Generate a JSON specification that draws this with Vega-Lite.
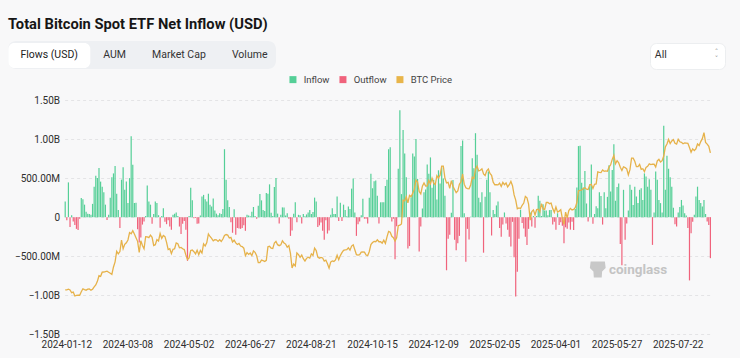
{
"$schema":"https://vega.github.io/schema/vega-lite/v6.json",
"width":646.4,"height":234.3,
"autosize":{"type":"none"},
"padding":{"left":64.6,"top":100,"right":29,"bottom":23.7},
"background":"#f8f8f9",
"title":{"text":"Total Bitcoin Spot ETF Net Inflow (USD)","anchor":"start","frame":"group","dx":-56.6,"offset":9,"font":"Roboto","fontSize":14.7,"fontWeight":"bold","color":"#161616"},
"config":{"view":{"stroke":null},"font":"Roboto"},
"datasets":{"flows":[
{"d":"2024-01-11","f":200,"p":42.8},{"d":"2024-01-12","f":-40,"p":42.8},{"d":"2024-01-16","f":445,"p":43.1},{"d":"2024-01-17","f":-125,"p":42.7},{"d":"2024-01-18","f":25,"p":41.3},{"d":"2024-01-19","f":-55,"p":41.6},{"d":"2024-01-22","f":-100,"p":39.6},{"d":"2024-01-23","f":-150,"p":39.9},{"d":"2024-01-24","f":-165,"p":40.1},{"d":"2024-01-25","f":-20,"p":40.0},{"d":"2024-01-26","f":245,"p":41.8},{"d":"2024-01-29","f":230,"p":43.3},{"d":"2024-01-30","f":160,"p":42.9},{"d":"2024-01-31","f":70,"p":42.6},
{"d":"2024-02-01","f":45,"p":43.1},{"d":"2024-02-02","f":40,"p":43.2},{"d":"2024-02-05","f":30,"p":42.6},{"d":"2024-02-06","f":170,"p":43.1},{"d":"2024-02-07","f":390,"p":44.3},{"d":"2024-02-08","f":530,"p":45.3},{"d":"2024-02-09","f":500,"p":47.1},{"d":"2024-02-12","f":630,"p":50.0},{"d":"2024-02-13","f":455,"p":49.7},{"d":"2024-02-14","f":390,"p":51.8},{"d":"2024-02-15","f":320,"p":51.9},{"d":"2024-02-16","f":160,"p":52.1},{"d":"2024-02-20","f":-35,"p":52.3},{"d":"2024-02-21","f":30,"p":51.8},{"d":"2024-02-22","f":250,"p":51.3},{"d":"2024-02-23","f":510,"p":50.7},{"d":"2024-02-26","f":560,"p":54.5},{"d":"2024-02-27","f":655,"p":57.1},{"d":"2024-02-28","f":300,"p":62.5},{"d":"2024-02-29","f":90,"p":61.2},
{"d":"2024-03-01","f":-140,"p":62.4},{"d":"2024-03-04","f":480,"p":68.3},{"d":"2024-03-05","f":640,"p":63.8},{"d":"2024-03-06","f":350,"p":66.1},{"d":"2024-03-07","f":455,"p":66.9},{"d":"2024-03-08","f":180,"p":68.3},{"d":"2024-03-11","f":500,"p":72.1},{"d":"2024-03-12","f":1035,"p":71.5},{"d":"2024-03-13","f":670,"p":73.1},{"d":"2024-03-14","f":180,"p":71.4},{"d":"2024-03-15","f":185,"p":69.5},{"d":"2024-03-18","f":-155,"p":67.6},{"d":"2024-03-19","f":-325,"p":61.9},{"d":"2024-03-20","f":-260,"p":67.9},{"d":"2024-03-21","f":-95,"p":65.5},{"d":"2024-03-22","f":-55,"p":63.8},{"d":"2024-03-25","f":15,"p":70.0},{"d":"2024-03-26","f":405,"p":69.9},{"d":"2024-03-27","f":200,"p":69.5},{"d":"2024-03-28","f":160,"p":70.8},
{"d":"2024-04-01","f":-85,"p":69.7},{"d":"2024-04-02","f":40,"p":65.5},{"d":"2024-04-03","f":200,"p":65.9},{"d":"2024-04-04","f":180,"p":68.5},{"d":"2024-04-05","f":25,"p":67.8},{"d":"2024-04-08","f":-135,"p":71.6},{"d":"2024-04-09","f":15,"p":69.1},{"d":"2024-04-10","f":115,"p":70.6},{"d":"2024-04-11","f":-60,"p":70.0},{"d":"2024-04-12","f":-90,"p":67.1},{"d":"2024-04-15","f":-40,"p":63.4},{"d":"2024-04-16","f":-120,"p":63.8},{"d":"2024-04-17","f":-160,"p":61.3},{"d":"2024-04-18","f":30,"p":63.5},{"d":"2024-04-19","f":45,"p":63.8},{"d":"2024-04-22","f":60,"p":66.8},{"d":"2024-04-23","f":15,"p":66.4},{"d":"2024-04-24","f":-120,"p":64.3},{"d":"2024-04-25","f":-215,"p":64.5},{"d":"2024-04-26","f":-85,"p":63.8},{"d":"2024-04-29","f":-50,"p":63.4},{"d":"2024-04-30","f":-160,"p":60.6},
{"d":"2024-05-01","f":-560,"p":58.3},{"d":"2024-05-02","f":15,"p":59.1},{"d":"2024-05-03","f":375,"p":62.9},{"d":"2024-05-06","f":215,"p":63.2},{"d":"2024-05-07","f":-15,"p":62.3},{"d":"2024-05-08","f":-10,"p":61.2},{"d":"2024-05-09","f":-85,"p":63.1},{"d":"2024-05-10","f":-80,"p":60.8},{"d":"2024-05-13","f":20,"p":62.9},{"d":"2024-05-14","f":265,"p":61.6},{"d":"2024-05-15","f":285,"p":66.3},{"d":"2024-05-16","f":230,"p":65.2},{"d":"2024-05-17","f":200,"p":67.0},{"d":"2024-05-20","f":300,"p":71.4},{"d":"2024-05-21","f":160,"p":70.1},{"d":"2024-05-22","f":135,"p":69.1},{"d":"2024-05-23","f":240,"p":67.9},{"d":"2024-05-24","f":85,"p":68.5},{"d":"2024-05-28","f":45,"p":68.4},{"d":"2024-05-29","f":25,"p":67.6},{"d":"2024-05-30","f":50,"p":68.4},{"d":"2024-05-31","f":40,"p":67.5},
{"d":"2024-06-03","f":105,"p":68.8},{"d":"2024-06-04","f":870,"p":70.6},{"d":"2024-06-05","f":480,"p":71.1},{"d":"2024-06-06","f":215,"p":70.8},{"d":"2024-06-07","f":130,"p":69.3},{"d":"2024-06-10","f":-65,"p":69.6},{"d":"2024-06-11","f":-200,"p":67.3},{"d":"2024-06-12","f":100,"p":68.2},{"d":"2024-06-13","f":-225,"p":66.8},{"d":"2024-06-14","f":-140,"p":66.0},{"d":"2024-06-17","f":-145,"p":66.5},{"d":"2024-06-18","f":-150,"p":65.2},{"d":"2024-06-20","f":-140,"p":64.9},{"d":"2024-06-21","f":-105,"p":64.1},{"d":"2024-06-24","f":-175,"p":60.3},{"d":"2024-06-25","f":30,"p":61.8},{"d":"2024-06-26","f":20,"p":60.9},{"d":"2024-06-27","f":10,"p":61.6},{"d":"2024-06-28","f":70,"p":60.3},
{"d":"2024-07-01","f":130,"p":62.7},{"d":"2024-07-02","f":15,"p":62.0},{"d":"2024-07-03","f":-20,"p":60.2},{"d":"2024-07-05","f":145,"p":56.7},{"d":"2024-07-08","f":295,"p":56.7},{"d":"2024-07-09","f":215,"p":58.0},{"d":"2024-07-10","f":90,"p":57.7},{"d":"2024-07-11","f":80,"p":57.3},{"d":"2024-07-12","f":310,"p":57.9},{"d":"2024-07-15","f":300,"p":64.8},{"d":"2024-07-16","f":420,"p":65.1},{"d":"2024-07-17","f":55,"p":64.1},{"d":"2024-07-18","f":15,"p":63.9},{"d":"2024-07-19","f":385,"p":66.7},{"d":"2024-07-22","f":500,"p":67.6},{"d":"2024-07-23","f":45,"p":65.9},{"d":"2024-07-24","f":-80,"p":65.4},{"d":"2024-07-25","f":30,"p":65.8},{"d":"2024-07-26","f":125,"p":67.9},{"d":"2024-07-29","f":125,"p":66.8},{"d":"2024-07-30","f":20,"p":66.2},{"d":"2024-07-31","f":50,"p":64.6},
{"d":"2024-08-01","f":-20,"p":65.4},{"d":"2024-08-02","f":-240,"p":61.4},{"d":"2024-08-05","f":-170,"p":54.0},{"d":"2024-08-06","f":45,"p":56.0},{"d":"2024-08-07","f":190,"p":55.0},{"d":"2024-08-08","f":-65,"p":61.7},{"d":"2024-08-09","f":30,"p":60.8},{"d":"2024-08-12","f":25,"p":59.4},{"d":"2024-08-13","f":-80,"p":60.6},{"d":"2024-08-14","f":40,"p":58.7},{"d":"2024-08-15","f":10,"p":57.5},{"d":"2024-08-16","f":35,"p":58.9},{"d":"2024-08-19","f":60,"p":59.5},{"d":"2024-08-20","f":90,"p":59.0},{"d":"2024-08-21","f":40,"p":61.2},{"d":"2024-08-22","f":65,"p":60.4},{"d":"2024-08-23","f":250,"p":64.1},{"d":"2024-08-26","f":200,"p":62.9},{"d":"2024-08-27","f":-125,"p":59.5},{"d":"2024-08-28","f":-105,"p":59.0},{"d":"2024-08-29","f":-70,"p":59.4},{"d":"2024-08-30","f":-175,"p":59.1},
{"d":"2024-09-03","f":-290,"p":57.5},{"d":"2024-09-04","f":-40,"p":58.0},{"d":"2024-09-05","f":-210,"p":56.1},{"d":"2024-09-06","f":-170,"p":53.9},{"d":"2024-09-09","f":30,"p":57.0},{"d":"2024-09-10","f":115,"p":57.6},{"d":"2024-09-11","f":40,"p":57.3},{"d":"2024-09-12","f":40,"p":58.1},{"d":"2024-09-13","f":265,"p":60.5},{"d":"2024-09-16","f":-50,"p":58.2},{"d":"2024-09-17","f":185,"p":60.3},{"d":"2024-09-18","f":-50,"p":61.8},{"d":"2024-09-19","f":160,"p":63.0},{"d":"2024-09-20","f":90,"p":63.2},{"d":"2024-09-23","f":10,"p":63.3},{"d":"2024-09-24","f":135,"p":64.3},{"d":"2024-09-25","f":105,"p":63.1},{"d":"2024-09-26","f":365,"p":65.2},{"d":"2024-09-27","f":495,"p":65.8},{"d":"2024-09-30","f":60,"p":63.3},
{"d":"2024-10-01","f":-240,"p":60.8},{"d":"2024-10-02","f":-90,"p":60.6},{"d":"2024-10-03","f":-55,"p":60.8},{"d":"2024-10-04","f":25,"p":62.1},{"d":"2024-10-07","f":235,"p":62.2},{"d":"2024-10-08","f":-20,"p":62.1},{"d":"2024-10-09","f":-20,"p":60.6},{"d":"2024-10-10","f":-80,"p":60.3},{"d":"2024-10-11","f":250,"p":62.4},{"d":"2024-10-14","f":555,"p":66.0},{"d":"2024-10-15","f":370,"p":67.0},{"d":"2024-10-16","f":460,"p":67.6},{"d":"2024-10-17","f":470,"p":67.4},{"d":"2024-10-18","f":275,"p":68.4},{"d":"2024-10-21","f":-80,"p":67.4},{"d":"2024-10-22","f":190,"p":67.4},{"d":"2024-10-23","f":190,"p":66.7},{"d":"2024-10-24","f":190,"p":68.2},{"d":"2024-10-25","f":400,"p":66.6},{"d":"2024-10-28","f":480,"p":69.9},{"d":"2024-10-29","f":870,"p":72.7},{"d":"2024-10-30","f":895,"p":72.3},{"d":"2024-10-31","f":-55,"p":70.2},
{"d":"2024-11-01","f":-20,"p":69.5},{"d":"2024-11-04","f":-540,"p":67.8},{"d":"2024-11-05","f":-115,"p":69.4},{"d":"2024-11-06","f":620,"p":75.6},{"d":"2024-11-07","f":1370,"p":75.9},{"d":"2024-11-08","f":295,"p":76.5},{"d":"2024-11-11","f":1115,"p":88.7},{"d":"2024-11-12","f":815,"p":88.3},{"d":"2024-11-13","f":510,"p":90.5},{"d":"2024-11-14","f":-400,"p":87.3},{"d":"2024-11-15","f":-370,"p":91.1},{"d":"2024-11-18","f":255,"p":90.5},{"d":"2024-11-19","f":815,"p":92.3},{"d":"2024-11-20","f":775,"p":94.3},{"d":"2024-11-21","f":1000,"p":98.9},{"d":"2024-11-22","f":490,"p":98.0},{"d":"2024-11-25","f":-440,"p":93.1},{"d":"2024-11-26","f":-120,"p":91.9},{"d":"2024-11-27","f":110,"p":95.9},{"d":"2024-11-29","f":320,"p":97.5},
{"d":"2024-12-02","f":355,"p":95.9},{"d":"2024-12-03","f":675,"p":96.0},{"d":"2024-12-04","f":555,"p":98.8},{"d":"2024-12-05","f":765,"p":97.0},{"d":"2024-12-06","f":375,"p":99.9},{"d":"2024-12-09","f":480,"p":97.4},{"d":"2024-12-10","f":440,"p":96.7},{"d":"2024-12-11","f":225,"p":101.2},{"d":"2024-12-12","f":600,"p":100.0},{"d":"2024-12-13","f":430,"p":101.5},{"d":"2024-12-16","f":635,"p":106.1},{"d":"2024-12-17","f":495,"p":106.1},{"d":"2024-12-18","f":275,"p":100.0},{"d":"2024-12-19","f":-680,"p":97.5},{"d":"2024-12-20","f":-275,"p":97.8},{"d":"2024-12-23","f":-225,"p":94.7},{"d":"2024-12-24","f":55,"p":98.7},{"d":"2024-12-26","f":475,"p":95.8},{"d":"2024-12-27","f":-290,"p":94.2},{"d":"2024-12-30","f":-425,"p":92.6},{"d":"2024-12-31","f":-335,"p":93.4},
{"d":"2025-01-02","f":-240,"p":96.9},{"d":"2025-01-03","f":910,"p":98.1},{"d":"2025-01-06","f":980,"p":102.1},{"d":"2025-01-07","f":50,"p":96.9},{"d":"2025-01-08","f":-570,"p":95.0},{"d":"2025-01-10","f":-150,"p":94.6},{"d":"2025-01-13","f":-285,"p":94.5},{"d":"2025-01-14","f":5,"p":96.5},{"d":"2025-01-15","f":755,"p":100.5},{"d":"2025-01-16","f":625,"p":99.8},{"d":"2025-01-17","f":1075,"p":104.5},{"d":"2025-01-21","f":800,"p":106.1},{"d":"2025-01-22","f":250,"p":103.7},{"d":"2025-01-23","f":190,"p":104.0},{"d":"2025-01-24","f":320,"p":104.7},{"d":"2025-01-27","f":-455,"p":102.1},{"d":"2025-01-28","f":260,"p":101.3},{"d":"2025-01-29","f":480,"p":103.7},{"d":"2025-01-30","f":585,"p":104.7},{"d":"2025-01-31","f":320,"p":102.4},
{"d":"2025-02-03","f":-235,"p":101.4},{"d":"2025-02-04","f":90,"p":97.9},{"d":"2025-02-05","f":40,"p":96.6},{"d":"2025-02-06","f":150,"p":96.6},{"d":"2025-02-07","f":200,"p":96.5},{"d":"2025-02-10","f":-140,"p":97.4},{"d":"2025-02-11","f":-250,"p":95.7},{"d":"2025-02-12","f":-95,"p":97.8},{"d":"2025-02-13","f":60,"p":96.6},{"d":"2025-02-14","f":-80,"p":97.5},{"d":"2025-02-18","f":-160,"p":95.5},{"d":"2025-02-19","f":-250,"p":96.6},{"d":"2025-02-20","f":-375,"p":98.3},{"d":"2025-02-21","f":-60,"p":96.1},{"d":"2025-02-24","f":-515,"p":91.4},{"d":"2025-02-25","f":-1015,"p":88.7},{"d":"2025-02-26","f":-700,"p":84.3},{"d":"2025-02-27","f":-275,"p":84.7},{"d":"2025-02-28","f":95,"p":84.4},
{"d":"2025-03-03","f":-75,"p":86.1},{"d":"2025-03-04","f":-145,"p":87.2},{"d":"2025-03-05","f":-250,"p":90.6},{"d":"2025-03-06","f":-355,"p":89.9},{"d":"2025-03-07","f":-150,"p":86.7},{"d":"2025-03-10","f":60,"p":78.5},{"d":"2025-03-11","f":-120,"p":82.9},{"d":"2025-03-12","f":15,"p":83.7},{"d":"2025-03-13","f":-135,"p":81.1},{"d":"2025-03-14","f":15,"p":83.9},{"d":"2025-03-17","f":275,"p":84.1},{"d":"2025-03-18","f":210,"p":82.7},{"d":"2025-03-19","f":15,"p":86.9},{"d":"2025-03-20","f":165,"p":84.2},{"d":"2025-03-21","f":85,"p":84.0},{"d":"2025-03-24","f":85,"p":87.5},{"d":"2025-03-25","f":25,"p":87.5},{"d":"2025-03-26","f":90,"p":86.9},{"d":"2025-03-27","f":90,"p":87.2},{"d":"2025-03-28","f":-95,"p":84.4},{"d":"2025-03-31","f":-60,"p":82.5},
{"d":"2025-04-01","f":-160,"p":85.2},{"d":"2025-04-02","f":50,"p":82.6},{"d":"2025-04-03","f":-100,"p":83.1},{"d":"2025-04-04","f":-65,"p":83.8},{"d":"2025-04-07","f":-110,"p":79.2},{"d":"2025-04-08","f":-335,"p":76.3},{"d":"2025-04-09","f":-130,"p":82.6},{"d":"2025-04-10","f":-150,"p":79.6},{"d":"2025-04-11","f":-70,"p":83.4},{"d":"2025-04-14","f":-160,"p":84.5},{"d":"2025-04-15","f":-60,"p":83.7},{"d":"2025-04-16","f":-165,"p":84.0},{"d":"2025-04-17","f":105,"p":84.9},{"d":"2025-04-21","f":380,"p":87.5},{"d":"2025-04-22","f":910,"p":93.4},{"d":"2025-04-23","f":915,"p":93.7},{"d":"2025-04-24","f":440,"p":93.9},{"d":"2025-04-25","f":380,"p":94.7},{"d":"2025-04-28","f":590,"p":95.0},{"d":"2025-04-29","f":175,"p":94.3},{"d":"2025-04-30","f":-55,"p":94.2},
{"d":"2025-05-01","f":420,"p":96.5},{"d":"2025-05-02","f":675,"p":96.8},{"d":"2025-05-05","f":-85,"p":94.7},{"d":"2025-05-06","f":40,"p":96.8},{"d":"2025-05-07","f":140,"p":97.0},{"d":"2025-05-08","f":115,"p":103.2},{"d":"2025-05-09","f":320,"p":102.9},{"d":"2025-05-12","f":270,"p":102.8},{"d":"2025-05-13","f":-95,"p":104.2},{"d":"2025-05-14","f":320,"p":103.5},{"d":"2025-05-15","f":115,"p":103.7},{"d":"2025-05-16","f":260,"p":103.5},{"d":"2025-05-19","f":665,"p":105.6},{"d":"2025-05-20","f":330,"p":106.8},{"d":"2025-05-21","f":605,"p":109.6},{"d":"2025-05-22","f":935,"p":111.7},{"d":"2025-05-23","f":210,"p":107.3},{"d":"2025-05-27","f":385,"p":108.9},{"d":"2025-05-28","f":430,"p":107.8},{"d":"2025-05-29","f":-345,"p":105.6},{"d":"2025-05-30","f":-615,"p":103.9},
{"d":"2025-06-02","f":350,"p":105.8},{"d":"2025-06-03","f":-290,"p":105.4},{"d":"2025-06-04","f":-80,"p":104.7},{"d":"2025-06-05","f":85,"p":101.6},{"d":"2025-06-06","f":415,"p":104.3},{"d":"2025-06-09","f":350,"p":110.2},{"d":"2025-06-10","f":155,"p":110.2},{"d":"2025-06-11","f":390,"p":108.6},{"d":"2025-06-12","f":265,"p":105.9},{"d":"2025-06-13","f":180,"p":105.9},{"d":"2025-06-16","f":350,"p":107.0},{"d":"2025-06-17","f":370,"p":104.5},{"d":"2025-06-18","f":220,"p":104.8},{"d":"2025-06-20","f":560,"p":103.3},{"d":"2025-06-23","f":520,"p":105.5},{"d":"2025-06-24","f":390,"p":106.0},{"d":"2025-06-25","f":485,"p":107.3},{"d":"2025-06-26","f":350,"p":106.9},{"d":"2025-06-27","f":-355,"p":107.1},{"d":"2025-06-30","f":60,"p":107.1},
{"d":"2025-07-01","f":585,"p":105.7},{"d":"2025-07-02","f":480,"p":108.8},{"d":"2025-07-03","f":220,"p":109.6},{"d":"2025-07-07","f":180,"p":108.2},{"d":"2025-07-08","f":60,"p":108.9},{"d":"2025-07-09","f":1170,"p":111.3},{"d":"2025-07-10","f":350,"p":115.9},{"d":"2025-07-11","f":785,"p":117.5},{"d":"2025-07-14","f":620,"p":119.8},{"d":"2025-07-15","f":510,"p":117.7},{"d":"2025-07-16","f":390,"p":119.0},{"d":"2025-07-17","f":120,"p":119.7},{"d":"2025-07-18","f":-90,"p":117.8},{"d":"2025-07-21","f":-120,"p":117.4},{"d":"2025-07-22","f":60,"p":119.9},{"d":"2025-07-23","f":130,"p":118.6},{"d":"2025-07-24","f":220,"p":118.3},{"d":"2025-07-25","f":150,"p":117.6},{"d":"2025-07-28","f":50,"p":118.0},{"d":"2025-07-29","f":20,"p":117.9},{"d":"2025-07-30","f":-140,"p":117.8},{"d":"2025-07-31","f":-810,"p":115.7},
{"d":"2025-08-01","f":-205,"p":113.2},{"d":"2025-08-04","f":-60,"p":115.0},{"d":"2025-08-05","f":30,"p":114.1},{"d":"2025-08-06","f":265,"p":115.0},{"d":"2025-08-07","f":390,"p":117.5},{"d":"2025-08-08","f":220,"p":116.7},{"d":"2025-08-11","f":180,"p":118.7},{"d":"2025-08-12","f":135,"p":120.2},{"d":"2025-08-13","f":220,"p":123.3},{"d":"2025-08-14","f":40,"p":118.3},{"d":"2025-08-15","f":-55,"p":117.4},{"d":"2025-08-18","f":-100,"p":116.3},{"d":"2025-08-19","f":-525,"p":112.9}
]},
"layer":[
{"data":{"name":"flows"},
 "transform":[{"calculate":"datum.f >= 0 ? 'Inflow' : 'Outflow'","as":"t"}],
 "mark":{"type":"bar"},
 "encoding":{
  "x":{"field":"d","type":"ordinal","sort":null,"scale":{"paddingInner":0.25,"paddingOuter":0},
       "axis":{"title":null,"values":["2024-01-12","2024-03-08","2024-05-02","2024-06-27","2024-08-21","2024-10-15","2024-12-09","2025-02-05","2025-04-01","2025-05-27","2025-07-22"],"labelAngle":0,"ticks":false,"domain":false,"grid":false,"labelPadding":5,"labelFont":"Roboto","labelFontSize":10,"labelColor":"#2e2e2e"}},
  "y":{"field":"f","type":"quantitative","scale":{"domain":[-1500,1500],"nice":false},
       "axis":{"title":null,"values":[-1500,-1000,-500,0,500,1000,1500],"labelExpr":"datum.value == 0 ? '0' : (abs(datum.value) >= 1000 ? format(datum.value/1000, '.2f') + 'B' : format(datum.value, '.2f') + 'M')","ticks":false,"domain":false,"grid":true,"gridColor":"#e4e4e6","gridDash":[3,3],"labelPadding":5,"labelFont":"Roboto","labelFontSize":10,"labelColor":"#2e2e2e"}},
  "color":{"field":"t","type":"nominal","scale":{"domain":["Inflow","Outflow","BTC Price"],"range":["#55cf97","#f0637c","#e8b54a"]},
       "legend":{"orient":"none","legendX":223.6,"legendY":-25.5,"direction":"horizontal","title":null,"symbolType":"square","symbolSize":49,"symbolStrokeWidth":0,"labelOffset":6,"columnPadding":8,"padding":0,"labelFont":"Roboto","labelFontSize":9.5,"labelColor":"#444444"}}
 }},
{"data":{"name":"flows"},
 "mark":{"type":"line","color":"#e6b24a","strokeWidth":1.3},
 "encoding":{
  "x":{"field":"d","type":"ordinal","sort":null},
  "y":{"field":"p","type":"quantitative","scale":{"domain":[20,140],"nice":false,"zero":false},"axis":null}
 }},
{"data":{"values":[{"w":"coinglass"}]},
 "mark":{"type":"text","font":"Roboto","fontWeight":"bold","fontSize":13.5,"color":"#c4c4c4","align":"center","baseline":"middle"},
 "encoding":{"text":{"field":"w"},"x":{"datum":"2025-06-13","type":"ordinal"},"y":{"datum":-676,"type":"quantitative","scale":{"domain":[-1500,1500],"nice":false},"axis":null}}},
{"data":{"values":[{"w":"logo"}]},
 "mark":{"type":"point","shape":"M-0.9,-1L0.9,-1L1,-0.2L0.55,0.25L0.5,1L-0.5,1L-0.55,0.25L-1,-0.2Z","filled":true,"color":"#c8c8c8","opacity":1,"size":250},
 "encoding":{"x":{"datum":"2025-05-08","type":"ordinal"},"y":{"datum":-670,"type":"quantitative","scale":{"domain":[-1500,1500],"nice":false},"axis":null}}},
{"data":{"values":[{"tab":"Flows (USD)"},{"tab":"AUM"},{"tab":"Market Cap"},{"tab":"Volume"}]},
 "mark":{"type":"point","opacity":0},
 "encoding":{"fill":{"field":"tab","type":"nominal","sort":null,"scale":{"range":["#eef0f3"]},
   "legend":{"orient":"none","legendX":-56.6,"legendY":-59,"direction":"horizontal","title":null,"fillColor":"#eef0f3","cornerRadius":8,"padding":8.2,"symbolSize":1,"symbolOpacity":0,"symbolStrokeWidth":0,"labelOffset":-6.2,"columnPadding":20.8,"labelFont":"Roboto","labelFontSize":10.5,"labelColor":"#333333","zindex":1}}}},
{"data":{"values":[{"sel":"Flows (USD)"}]},
 "mark":{"type":"point","opacity":0},
 "encoding":{"stroke":{"field":"sel","type":"nominal","scale":{"range":["#ffffff"]},
   "legend":{"orient":"none","legendX":-56.3,"legendY":-57,"title":"\u00a0","titleOrient":"right","titlePadding":5,"titleFontSize":10.5,"fillColor":"#ffffff","cornerRadius":6,"padding":6.7,"symbolSize":1,"symbolOpacity":0,"symbolStrokeWidth":0,"labelOffset":-5,"labelFont":"Roboto","labelFontSize":10.5,"labelColor":"#222222","zindex":2}}}},
{"data":{"values":[{"r":"All"}]},
 "mark":{"type":"point","opacity":0},
 "encoding":{"shape":{"field":"r","type":"nominal",
   "legend":{"orient":"none","legendX":585.4,"legendY":-57,"title":["˄","˅"],"titleOrient":"right","titlePadding":48,"titleFont":"DejaVu Sans","titleFontSize":7,"titleFontWeight":"normal","titleLineHeight":7.5,"titleColor":"#8a8a8a","fillColor":"#ffffff","strokeColor":"#eceef0","cornerRadius":6,"padding":6.7,"symbolSize":1,"symbolOpacity":0,"symbolStrokeWidth":0,"labelOffset":-12.4,"labelFont":"Roboto","labelFontSize":10.5,"labelColor":"#333333","zindex":1}}}}
],
"resolve":{"scale":{"y":"independent"}}
}
